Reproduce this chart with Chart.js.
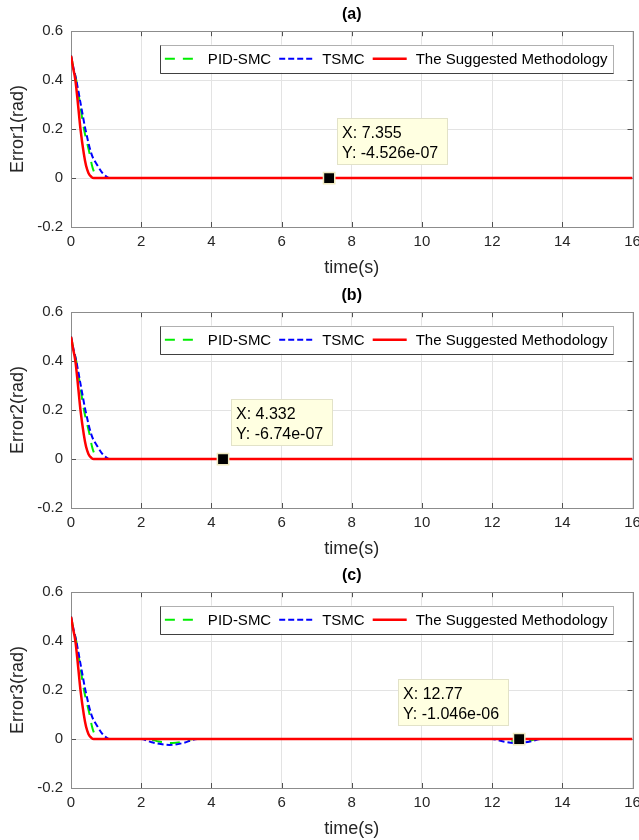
<!DOCTYPE html>
<html>
<head>
<meta charset="utf-8">
<title>Error convergence</title>
<script src="https://cdn.jsdelivr.net/npm/chart.js@4.4.1/dist/chart.umd.min.js"></script>
<style>
  html, body { margin: 0; padding: 0; background: #fff; overflow: hidden; }
  .panel { position: absolute; left: 0; width: 639px; height: 281px; overflow: hidden; }
</style>
</head>
<body>
<div class="panel" style="top:0px"><canvas id="errA" width="642" height="281"></canvas></div>
<div class="panel" style="top:281px"><canvas id="errB" width="642" height="281"></canvas></div>
<div class="panel" style="top:561px"><canvas id="errC" width="642" height="281"></canvas></div>
<script>
// axes
const xTicks = [0, 2, 4, 6, 8, 10, 12, 14, 16];
const yTicks = [-0.2, 0, 0.2, 0.4, 0.6];
const seriesNames = ['PID-SMC', 'TSMC', 'The Suggested Methodology'];
const panelTitles = ['(a)', '(b)', '(c)'];
const yLabels = ['Error1(rad)', 'Error2(rad)', 'Error3(rad)'];

// joints 1 and 2 (same transient)
const tPid = [0, 0.07, 0.15, 0.26, 0.37, 0.53, 0.6, 0.67, 0.73, 0.8, 16];
const ePid = [0.5, 0.45, 0.4, 0.3, 0.2, 0.1, 0.05, 0.02, 0.006, 0, 0];
const tTsmc = [0, 0.07, 0.15, 0.28, 0.41, 0.58, 0.76, 0.9, 1.0, 1.1, 16];
const eTsmc = [0.5, 0.45, 0.4, 0.3, 0.2, 0.1, 0.05, 0.02, 0.007, 0, 0];
const tSug = [0, 0.06, 0.125, 0.2, 0.27, 0.365, 0.43, 0.5, 0.58, 0.65, 16];
const eSug = [0.5, 0.45, 0.4, 0.3, 0.2, 0.1, 0.05, 0.02, 0.005, 0, 0];

// joint 3 (small undershoots around 3 s and 12.7 s)
const tPid3 = [0, 0.07, 0.15, 0.26, 0.37, 0.53, 0.6, 0.67, 0.73, 0.8, 2.2, 2.5, 2.9, 3.2, 3.5, 12.3, 12.55, 12.8, 13.05, 13.3, 16];
const ePid3 = [0.5, 0.45, 0.4, 0.3, 0.2, 0.1, 0.05, 0.02, 0.006, 0, 0, -0.01, -0.016, -0.01, 0, 0, -0.007, -0.01, -0.007, 0, 0];
const tTsmc3 = [0, 0.07, 0.15, 0.28, 0.41, 0.58, 0.76, 0.9, 1.0, 1.1, 2.0, 2.3, 2.8, 3.2, 3.6, 12.0, 12.35, 12.7, 13.05, 13.4, 16];
const eTsmc3 = [0.5, 0.45, 0.4, 0.3, 0.2, 0.1, 0.05, 0.02, 0.007, 0, 0, -0.013, -0.024, -0.016, 0, 0, -0.011, -0.017, -0.011, 0, 0];
const tSug3 = tSug;
const eSug3 = eSug;

// data tips
const tipX = [7.355, 4.332, 12.77];
const tipY = [-4.526e-07, -6.74e-07, -1.046e-06];

const fontFam = '"Liberation Sans", Arial, Helvetica, sans-serif';
Chart.defaults.font.family = fontFam;

function pairs(ts, vs) {
  return ts.map((t, i) => ({ x: t, y: vs[i] }));
}

// -4.526e-7 -> "-4.526e-07", -6.74e-7 -> "-6.74e-07"
function fmtExp(v) {
  let [m, e] = v.toExponential(3).split('e');
  if (m.indexOf('.') >= 0) m = m.replace(/\.?0+$/, '');
  return m + 'e' + e[0] + e.slice(1).padStart(2, '0');
}

// box, grid ticks pointing inward
const framePlugin = {
  id: 'axesFrame',
  beforeDatasetsDraw(chart) {
    const { ctx, chartArea: a, scales: { x, y } } = chart;
    ctx.save();
    ctx.strokeStyle = '#505050';
    ctx.lineWidth = 1;
    ctx.beginPath();
    x.ticks.forEach(t => {
      const px = Math.round(x.getPixelForValue(t.value)) + 0.5;
      ctx.moveTo(px, a.bottom); ctx.lineTo(px, a.bottom - 5);
      ctx.moveTo(px, a.top); ctx.lineTo(px, a.top + 5);
    });
    y.ticks.forEach(t => {
      const py = Math.round(y.getPixelForValue(t.value)) + 0.5;
      ctx.moveTo(a.left, py); ctx.lineTo(a.left + 5, py);
      ctx.moveTo(a.right, py); ctx.lineTo(a.right - 5, py);
    });
    ctx.stroke();
    ctx.strokeStyle = '#8c8c8c';
    ctx.strokeRect(Math.round(a.left) + 0.5, Math.round(a.top) + 0.5, Math.round(a.width), Math.round(a.height));
    ctx.restore();
  }
};

// horizontal legend inside the top of the axes
const keyPlugin = {
  id: 'keyBox',
  afterDraw(chart) {
    const { ctx, chartArea: a } = chart;
    const items = chart.data.datasets.slice(0, 3);
    ctx.save();
    ctx.font = '15px ' + fontFam;
    const lineLen = 34, gapText = 9, gapItem = 8, pad = 5;
    let total = pad * 2;
    items.forEach((d, i) => {
      total += lineLen + gapText + ctx.measureText(d.label).width + (i < items.length - 1 ? gapItem : 0);
    });
    const right = a.right - 20, left = right - total;
    const top = a.top + 13.5, h = 28;
    ctx.fillStyle = '#fff';
    ctx.fillRect(left, top, total, h);
    ctx.strokeStyle = '#b0b0b0';
    ctx.lineWidth = 1;
    ctx.strokeRect(Math.round(left) + 0.5, Math.round(top) + 0.5, Math.round(total), h);
    ctx.strokeStyle = '#404040';
    ctx.beginPath();
    ctx.moveTo(Math.round(left) + 0.5, Math.round(top) + 0.5);
    ctx.lineTo(Math.round(left) + 0.5, Math.round(top) + h + 0.5);
    ctx.lineTo(Math.round(left) + Math.round(total) + 0.5, Math.round(top) + h + 0.5);
    ctx.stroke();
    let cx = left + pad;
    const cy = top + h / 2;
    items.forEach(d => {
      ctx.strokeStyle = d.borderColor;
      ctx.lineWidth = d.borderWidth;
      ctx.setLineDash(d.borderDash || []);
      ctx.beginPath();
      ctx.moveTo(cx, cy); ctx.lineTo(cx + lineLen, cy);
      ctx.stroke();
      ctx.setLineDash([]);
      cx += lineLen + gapText;
      ctx.fillStyle = '#000';
      ctx.textBaseline = 'middle';
      ctx.textAlign = 'left';
      ctx.fillText(d.label, cx, cy + 1);
      cx += ctx.measureText(d.label).width + gapItem;
    });
    ctx.restore();
  }
};

// data tip label next to the marked point
const tipPlugin = {
  id: 'dataTip',
  afterDraw(chart, args, opts) {
    const { ctx } = chart;
    const meta = chart.getDatasetMeta(3);
    const pt = meta.data && meta.data[0];
    if (!pt) return;
    const p = chart.data.datasets[3].data[0];
    const lines = ['X: ' + p.x.toPrecision(4), 'Y: ' + fmtExp(p.y)];
    ctx.save();
    ctx.font = '16px ' + fontFam;
    const w = Math.max(...lines.map(l => ctx.measureText(l).width)) + 14;
    const h = 46;
    const left = opts.side === 'left' ? pt.x - 11 - w : pt.x + 8;
    const top = pt.y - 14 - h;
    ctx.fillStyle = '#ffffe1';
    ctx.fillRect(left, top, w, h);
    ctx.strokeStyle = '#e2e2c8';
    ctx.lineWidth = 1;
    ctx.strokeRect(Math.round(left) + 0.5, Math.round(top) + 0.5, Math.round(w), h);
    ctx.fillStyle = '#000';
    ctx.textBaseline = 'middle';
    ctx.textAlign = 'left';
    ctx.fillText(lines[0], left + 5, top + 16);
    ctx.fillText(lines[1], left + 5, top + 36);
    ctx.restore();
  }
};

function makePanel(canvasId, k, pid, tsmc, sug, side) {
  const ctx = document.getElementById(canvasId).getContext('2d');
  return new Chart(ctx, {
    type: 'line',
    data: {
      datasets: [
        {
          label: seriesNames[0],
          data: pid,
          borderColor: '#00ee00',
          borderWidth: 2,
          borderDash: [10, 8],
          pointRadius: 0,
          cubicInterpolationMode: 'monotone',
          order: 3
        },
        {
          label: seriesNames[1],
          data: tsmc,
          borderColor: '#0000ff',
          borderWidth: 2,
          borderDash: [6, 3],
          pointRadius: 0,
          cubicInterpolationMode: 'monotone',
          order: 2
        },
        {
          label: seriesNames[2],
          data: sug,
          borderColor: '#ff0000',
          borderWidth: 2.5,
          pointRadius: 0,
          cubicInterpolationMode: 'monotone',
          order: 1
        },
        {
          label: 'tip',
          data: [{ x: tipX[k], y: tipY[k] }],
          showLine: false,
          pointStyle: 'rect',
          pointRadius: 8,
          pointBackgroundColor: '#000',
          pointBorderColor: '#efe9c0',
          pointBorderWidth: 1.5,
          order: 0
        }
      ]
    },
    options: {
      responsive: false,
      animation: false,
      devicePixelRatio: 1,
      layout: { padding: { left: 0, right: 4, top: 0, bottom: 0 } },
      plugins: {
        legend: { display: false },
        tooltip: { enabled: false },
        title: {
          display: true,
          text: panelTitles[k],
          fullSize: false,
          color: '#000',
          font: { size: 16, weight: 'bold' },
          padding: { top: 5, bottom: 7 }
        },
        dataTip: { side: side }
      },
      scales: {
        x: {
          type: 'linear',
          min: 0,
          max: 16,
          afterBuildTicks: s => { s.ticks = xTicks.map(v => ({ value: v })); },
          afterFit: s => { s.height = 54; s.paddingLeft = 0; s.paddingRight = 0; },
          ticks: { color: '#262626', font: { size: 15 }, padding: 6, maxRotation: 0, autoSkip: false },
          grid: { color: '#e3e3e3', drawTicks: false },
          border: { display: false },
          title: { display: true, text: 'time(s)', color: '#262626', font: { size: 18 }, padding: { top: 0, bottom: 2 } }
        },
        y: {
          min: -0.2,
          max: 0.6,
          afterBuildTicks: s => { s.ticks = yTicks.map(v => ({ value: v })); },
          afterFit: s => { s.width = 71; },
          ticks: { color: '#262626', font: { size: 15 }, padding: 8, callback: v => String(v) },
          grid: { color: '#e3e3e3', drawTicks: false },
          border: { display: false },
          title: { display: true, text: yLabels[k], color: '#262626', font: { size: 18 }, padding: { top: 7, bottom: 0 } }
        }
      }
    },
    plugins: [framePlugin, keyPlugin, tipPlugin]
  });
}

makePanel('errA', 0, pairs(tPid, ePid), pairs(tTsmc, eTsmc), pairs(tSug, eSug), 'right');
makePanel('errB', 1, pairs(tPid, ePid), pairs(tTsmc, eTsmc), pairs(tSug, eSug), 'right');
makePanel('errC', 2, pairs(tPid3, ePid3), pairs(tTsmc3, eTsmc3), pairs(tSug3, eSug3), 'left');
</script>
</body>
</html>
